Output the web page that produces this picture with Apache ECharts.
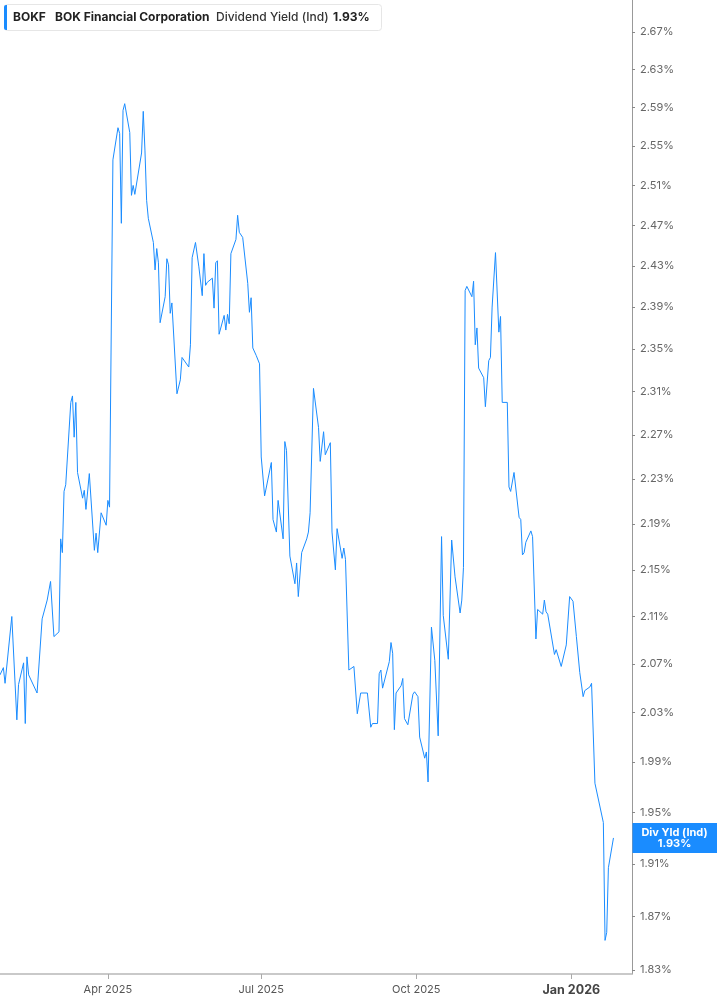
<!DOCTYPE html>
<html>
<head>
<meta charset="utf-8">
<script src="https://cdn.jsdelivr.net/npm/echarts@6/dist/echarts.min.js"></script>
<style>
html,body{margin:0;padding:0;background:#fff;}
#c{width:717px;height:1005px;}
</style>
</head>
<body>
<div id="c"></div>
<script>
// ---------- data ----------
const ticker = 'BOKF';
const company = 'BOK Financial Corporation';
const metric = 'Dividend Yield (Ind)';
const lastText = '1.93%';
const badgeTitle = 'Div Yld (Ind)';

const dates = [
'2025-01-27','2025-01-29','2025-01-30','2025-02-03','2025-02-06','2025-02-07','2025-02-10','2025-02-11','2025-02-12','2025-02-13',
'2025-02-14','2025-02-18','2025-02-21','2025-02-24','2025-02-26','2025-02-28','2025-03-03','2025-03-04','2025-03-05','2025-03-06',
'2025-03-07','2025-03-10','2025-03-11','2025-03-12','2025-03-13','2025-03-14','2025-03-17','2025-03-18','2025-03-19','2025-03-21',
'2025-03-24','2025-03-25','2025-03-26','2025-03-28','2025-03-31','2025-04-01','2025-04-02','2025-04-04','2025-04-07','2025-04-08',
'2025-04-09','2025-04-10','2025-04-11','2025-04-14','2025-04-15','2025-04-16','2025-04-17','2025-04-21','2025-04-22','2025-04-23',
'2025-04-24','2025-04-25','2025-04-28','2025-04-29','2025-04-30','2025-05-01','2025-05-02','2025-05-05','2025-05-06','2025-05-07',
'2025-05-08','2025-05-09','2025-05-12','2025-05-14','2025-05-15','2025-05-19','2025-05-20','2025-05-21','2025-05-22','2025-05-23',
'2025-05-25','2025-05-27','2025-05-28','2025-05-29','2025-05-30','2025-06-02','2025-06-03','2025-06-04','2025-06-05','2025-06-06',
'2025-06-09','2025-06-10','2025-06-11','2025-06-12','2025-06-13','2025-06-16','2025-06-17','2025-06-18','2025-06-20','2025-06-23',
'2025-06-24','2025-06-25','2025-06-26','2025-06-28','2025-06-30','2025-07-01','2025-07-03','2025-07-07','2025-07-08','2025-07-09',
'2025-07-10','2025-07-11','2025-07-14','2025-07-15','2025-07-16','2025-07-18','2025-07-21','2025-07-22','2025-07-23','2025-07-25',
'2025-07-28','2025-07-29','2025-07-30','2025-08-01','2025-08-04','2025-08-05','2025-08-07','2025-08-08','2025-08-11','2025-08-12',
'2025-08-14','2025-08-15','2025-08-18','2025-08-19','2025-08-20','2025-08-21','2025-08-22','2025-08-25','2025-08-27','2025-08-29',
'2025-09-02','2025-09-04','2025-09-05','2025-09-08','2025-09-09','2025-09-10','2025-09-11','2025-09-15','2025-09-16','2025-09-17',
'2025-09-18','2025-09-19','2025-09-22','2025-09-23','2025-09-24','2025-09-26','2025-09-29','2025-09-30','2025-10-02','2025-10-03',
'2025-10-06','2025-10-07','2025-10-08','2025-10-10','2025-10-12','2025-10-14','2025-10-16','2025-10-17','2025-10-20','2025-10-22',
'2025-10-23','2025-10-24','2025-10-27','2025-10-28','2025-10-29','2025-10-30','2025-10-31','2025-11-03','2025-11-04','2025-11-05',
'2025-11-06','2025-11-07','2025-11-10','2025-11-11','2025-11-13','2025-11-14','2025-11-15','2025-11-17','2025-11-19','2025-11-20',
'2025-11-21','2025-11-24','2025-11-25','2025-11-26','2025-11-28','2025-12-01','2025-12-02','2025-12-03','2025-12-04','2025-12-05',
'2025-12-08','2025-12-09','2025-12-11','2025-12-12','2025-12-15','2025-12-16','2025-12-17','2025-12-18','2025-12-22','2025-12-23',
'2025-12-26','2025-12-29','2025-12-31','2026-01-02','2026-01-04','2026-01-06','2026-01-07','2026-01-08','2026-01-09','2026-01-12',
'2026-01-13','2026-01-15','2026-01-20','2026-01-21','2026-01-22','2026-01-23','2026-01-26'
];

const yields = [
2.061,2.067,2.054,2.110,2.024,2.053,2.071,2.021,2.076,2.061,
2.062,2.046,2.108,2.124,2.140,2.093,2.097,2.177,2.165,2.219,
2.225,2.300,2.306,2.268,2.300,2.236,2.213,2.220,2.203,2.235,
2.167,2.182,2.165,2.200,2.189,2.211,2.205,2.536,2.569,2.563,
2.472,2.587,2.594,2.564,2.500,2.510,2.501,2.543,2.586,2.546,
2.495,2.477,2.453,2.426,2.447,2.433,2.375,2.400,2.437,2.431,
2.384,2.394,2.308,2.321,2.342,2.333,2.354,2.438,2.439,2.453,
2.429,2.401,2.442,2.411,2.414,2.418,2.389,2.433,2.435,2.364,
2.382,2.368,2.383,2.374,2.442,2.456,2.480,2.463,2.458,2.413,
2.385,2.399,2.351,2.344,2.336,2.250,2.215,2.245,2.194,2.193,
2.183,2.211,2.177,2.264,2.256,2.162,2.138,2.156,2.127,2.165,
2.177,2.183,2.200,2.313,2.277,2.246,2.273,2.252,2.263,2.183,
2.150,2.186,2.160,2.169,2.159,2.158,2.065,2.068,2.029,2.046,
2.046,2.018,2.021,2.021,2.062,2.065,2.050,2.072,2.088,2.079,
2.016,2.046,2.052,2.058,2.025,2.020,2.045,2.047,2.043,2.010,
1.993,1.998,1.974,2.101,2.073,2.011,2.179,2.111,2.074,2.176,
2.175,2.144,2.113,2.124,2.152,2.406,2.410,2.400,2.415,2.354,
2.370,2.332,2.323,2.296,2.339,2.342,2.390,2.443,2.366,2.381,
2.300,2.300,2.223,2.219,2.236,2.196,2.194,2.163,2.165,2.174,
2.184,2.179,2.091,2.116,2.112,2.124,2.114,2.112,2.078,2.082,
2.068,2.086,2.127,2.123,2.093,2.063,2.063,2.043,2.048,2.051,
2.054,1.973,1.942,1.852,1.858,1.907,1.930
];

const yTicks = [1.83,1.87,1.91,1.95,1.99,2.03,2.07,2.11,2.15,2.19,2.23,2.27,2.31,2.35,2.39,2.43,2.47,2.51,2.55,2.59,2.63,2.67];
const yRange = [1.8271, 2.7046];
const xTickDates = ['2025-04-01','2025-07-01','2025-10-01','2026-01-01'];
const xTickLabels = ['Apr 2025','Jul 2025','Oct 2025','Jan 2026'];
const xRange = ['2025-01-27','2026-02-06'];

// ---------- chart ----------
const FONT = 'Inter, Roboto, "Noto Sans", sans-serif';
const BLUE = '#1a8cff';
const ts = d => Date.parse(d + 'T00:00:00Z');
const xTickTs = xTickDates.map(ts);
const seriesData = dates.map((d, i) => [ts(d), Math.log(yields[i])]);
const yTickLn = yTicks.map(v => Math.log(v));

const chart = echarts.init(document.getElementById('c'), null, {renderer: 'canvas'});

chart.setOption({
  animation: false,
  backgroundColor: '#ffffff',
  grid: {left: 0, right: 85, top: 0, bottom: 31, containLabel: false},
  xAxis: {
    type: 'value',
    min: ts(xRange[0]),
    max: ts(xRange[1]),
    axisLine: {show: true, lineStyle: {color: '#b8b8b8', width: 1.5}},
    axisTick: {show: true, customValues: xTickTs, length: 5, lineStyle: {color: '#aaaaaa'}},
    axisLabel: {
      show: true,
      customValues: xTickTs,
      margin: 10,
      fontFamily: FONT,
      fontSize: 11,
      color: '#555555',
      formatter: function (v) {
        let idx = 0, best = Infinity;
        xTickTs.forEach((t, i) => { const dd = Math.abs(t - v); if (dd < best) { best = dd; idx = i; } });
        const lab = xTickLabels[idx];
        return lab.indexOf('Jan') === 0 ? '{b|' + lab + '}' : lab;
      },
      rich: {b: {fontFamily: FONT, fontSize: 12.5, fontWeight: 'bold', color: '#444444'}}
    },
    splitLine: {show: false}
  },
  yAxis: {
    type: 'value',
    position: 'right',
    min: Math.log(yRange[0]),
    max: Math.log(yRange[1]),
    axisLine: {show: true, lineStyle: {color: '#999999', width: 1}},
    axisTick: {show: true, customValues: yTickLn, length: 3, lineStyle: {color: '#888888'}},
    axisLabel: {
      show: true,
      customValues: yTickLn,
      margin: 8,
      fontFamily: FONT,
      fontSize: 11,
      color: '#666666',
      formatter: v => Math.exp(v).toFixed(2) + '%'
    },
    splitLine: {show: false}
  },
  series: [{
    type: 'line',
    data: seriesData,
    showSymbol: false,
    symbol: 'none',
    clip: true,
    lineStyle: {color: BLUE, width: 1},
    z: 3
  }]
});

// header box and last-value badge placed through the chart's own scale
const last = seriesData[seriesData.length - 1];
const pLast = chart.convertToPixel({gridIndex: 0}, last);
const pAxis = chart.convertToPixel({gridIndex: 0}, [ts(xRange[1]), last[1]]);
const axisX = pAxis[0];
const badgeH = 30;

chart.setOption({
  graphic: [
    {type: 'rect', shape: {x: 4.5, y: 4.5, width: 377, height: 26, r: 3},
     style: {fill: '#ffffff', stroke: '#e6e6e6', lineWidth: 1}, z: 10},
    {type: 'rect', shape: {x: 4, y: 5, width: 3, height: 25, r: [2, 0, 0, 2]},
     style: {fill: BLUE}, z: 11},
    {type: 'text', x: 13, y: 17.5, z: 11,
     style: {text: ticker, fontFamily: FONT, fontSize: 12, fontWeight: 'bold', fill: '#222222', verticalAlign: 'middle'}},
    {type: 'text', x: 55, y: 17.5, z: 11,
     style: {text: company, fontFamily: FONT, fontSize: 12, fontWeight: 'bold', fill: '#222222', verticalAlign: 'middle'}},
    {type: 'text', x: 216, y: 17.5, z: 11,
     style: {text: metric, fontFamily: FONT, fontSize: 12, fontWeight: 500, fill: '#333333', verticalAlign: 'middle'}},
    {type: 'text', x: 333, y: 17.5, z: 11,
     style: {text: lastText, fontFamily: FONT, fontSize: 12, fontWeight: 'bold', fill: '#222222', verticalAlign: 'middle'}},
    {type: 'rect', shape: {x: axisX + 0.5, y: pLast[1] - badgeH / 2, width: 717 - axisX, height: badgeH},
     style: {fill: BLUE}, z: 12},
    {type: 'text', x: (axisX + 717) / 2, y: pLast[1] - 5.5, z: 13,
     style: {text: badgeTitle, fontFamily: FONT, fontSize: 11, fontWeight: 'bold', fill: '#ffffff', align: 'center', verticalAlign: 'middle'}},
    {type: 'text', x: (axisX + 717) / 2, y: pLast[1] + 6, z: 13,
     style: {text: lastText, fontFamily: FONT, fontSize: 11, fontWeight: 'bold', fill: '#ffffff', align: 'center', verticalAlign: 'middle'}}
  ]
});
</script>
</body>
</html>
